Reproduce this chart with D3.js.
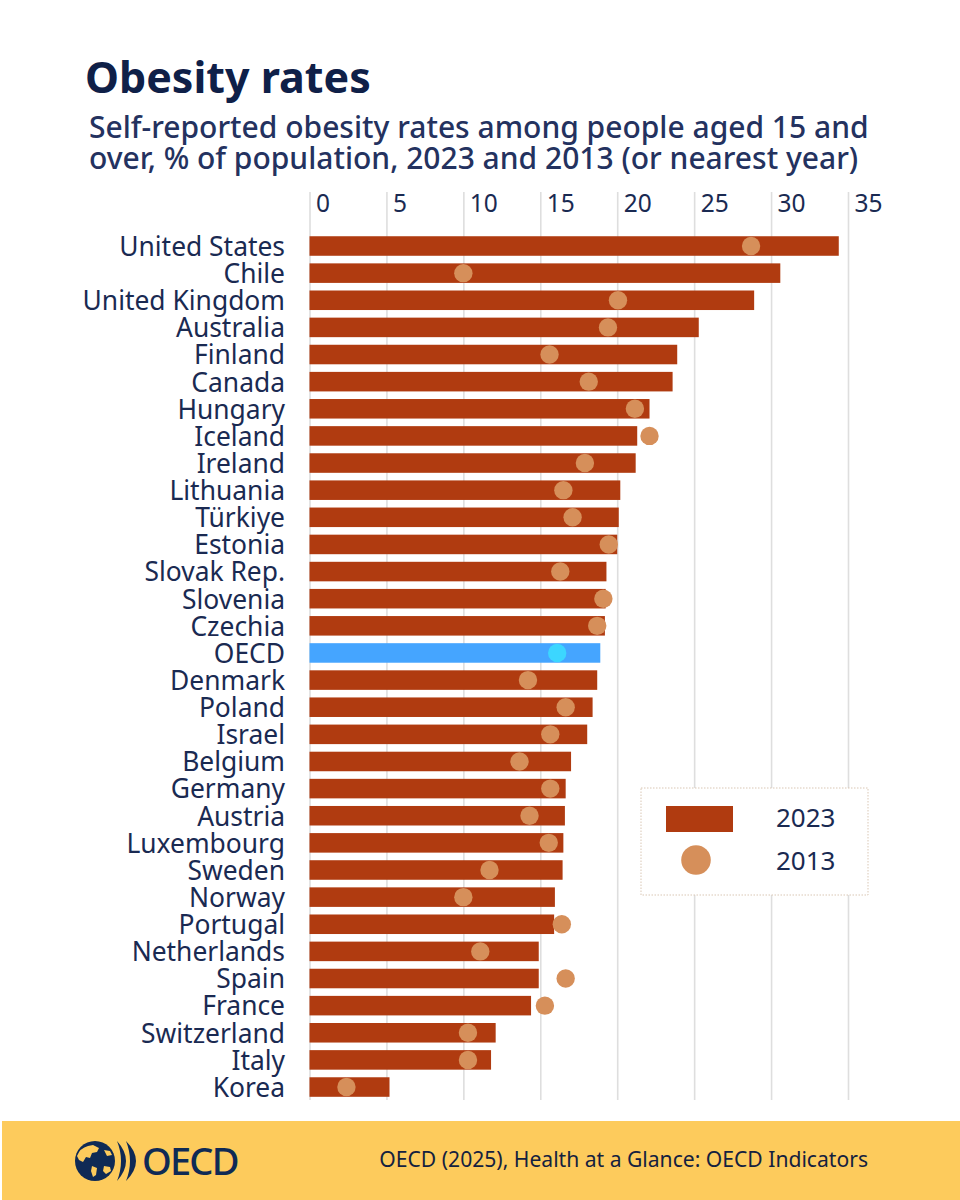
<!DOCTYPE html>
<html><head><meta charset="utf-8">
<script src="https://cdn.jsdelivr.net/npm/d3@7/dist/d3.min.js"></script>
<style>html,body{margin:0;padding:0;background:#fff}svg{display:block}text{font-family:"Noto Sans","Open Sans",sans-serif}</style>
</head><body><svg id="c" width="960" height="1200"></svg>
<script>
const countries=["United States","Chile","United Kingdom","Australia","Finland","Canada","Hungary","Iceland","Ireland","Lithuania","Türkiye","Estonia","Slovak Rep.","Slovenia","Czechia","OECD","Denmark","Poland","Israel","Belgium","Germany","Austria","Luxembourg","Sweden","Norway","Portugal","Netherlands","Spain","France","Switzerland","Italy","Korea"];
const values2023=[34.4,30.6,28.9,25.3,23.9,23.6,22.1,21.3,21.2,20.2,20.1,20.0,19.3,19.25,19.2,18.9,18.7,18.4,18.05,17.0,16.65,16.6,16.5,16.45,15.95,15.9,14.9,14.9,14.4,12.1,11.8,5.2];
const values2013=[28.7,10.0,20.05,19.4,15.6,18.15,21.15,22.1,17.9,16.5,17.1,19.45,16.3,19.1,18.7,16.1,14.2,16.65,15.65,13.65,15.65,14.3,15.55,11.7,10.0,16.4,11.1,16.65,15.3,10.3,10.3,2.4];
const ticks=[0,5,10,15,20,25,30,35];
const legendItems=["2023","2013"];
const ink="#1a2a52",barC="#b03b10",dotC="#d68f5a",oecdBar="#45a5ff",oecdDot="#3cd6ff";

const svg=d3.select("#c");
const x=d3.scaleLinear().domain([0,35]).range([309.5,848]);
const y=d3.scaleBand().domain(countries).range([232.44,1100.6]).paddingInner(0.28).paddingOuter(0.14);

svg.append("text").attr("x",85).attr("y",93).attr("font-size",43).attr("font-weight",700).attr("fill","#0f2048").text("Obesity rates");
svg.append("text").attr("x",89).attr("y",138).attr("font-size",30).attr("font-weight",500).attr("fill","#24325f").text("Self-reported obesity rates among people aged 15 and");
svg.append("text").attr("x",89).attr("y",168.5).attr("font-size",30).attr("font-weight",500).attr("fill","#24325f").text("over, % of population, 2023 and 2013 (or nearest year)");

// grid + top axis
const ax=svg.append("g").attr("transform","translate(0,1100)").call(d3.axisTop(x).tickValues(ticks).tickSize(908).tickFormat(d3.format("d")));
ax.select(".domain").remove();
ax.selectAll("line").attr("stroke","#dedede").attr("stroke-width",1.6);
ax.selectAll("text").attr("text-anchor","start").attr("x",6).attr("y",-888).attr("dy",0).attr("font-size",24.5).attr("fill",ink).style("font-family",'"Noto Sans"');

// y labels
const ay=svg.append("g").attr("transform","translate(285,0.6)").call(d3.axisLeft(y).tickSize(0).tickPadding(0));
ay.select(".domain").remove();
ay.selectAll("text").attr("font-size",26.4).attr("fill",ink).attr("dy","0.35em").style("font-family",'"Noto Sans"');

svg.append("g").selectAll("rect").data(countries).join("rect")
 .attr("x",x(0)).attr("y",d=>y(d)).attr("height",y.bandwidth())
 .attr("width",(d,i)=>x(values2023[i])-x(0)).attr("fill",d=>d==="OECD"?oecdBar:barC);
svg.append("g").selectAll("circle").data(countries).join("circle")
 .attr("cx",(d,i)=>x(values2013[i])).attr("cy",d=>y(d)+y.bandwidth()/2).attr("r",9.2)
 .attr("fill",d=>d==="OECD"?oecdDot:dotC);

// legend
const lg=svg.append("g");
lg.append("rect").attr("x",641).attr("y",788).attr("width",227).attr("height",107).attr("fill","#fff").attr("stroke","#d9c7b4").attr("stroke-width",1).attr("stroke-dasharray","1.5 1.5");
lg.append("rect").attr("x",666).attr("y",806).attr("width",67).attr("height",26).attr("fill",barC);
lg.append("circle").attr("cx",696).attr("cy",860).attr("r",14.8).attr("fill",dotC);
lg.selectAll("text").data(legendItems).join("text").attr("x",776).attr("y",(d,i)=>[827,870][i]).attr("font-size",26).attr("fill",ink).text(d=>d);

// footer
svg.append("rect").attr("x",2).attr("y",1121).attr("width",958).attr("height",79).attr("fill","#fdcb5c");
svg.append("text").attr("x",868).attr("y",1167).attr("text-anchor","end").attr("font-size",21.1).attr("fill","#14213f").text("OECD (2025), Health at a Glance: OECD Indicators");

// logo
const logoC="#0f2a55";
const logo=svg.append("g");
logo.append("circle").attr("cx",95).attr("cy",1161).attr("r",20).attr("fill",logoC);
logo.append("path").attr("fill","#fdcb5c").attr("d","M77,1156 q3,-8 11,-10 l5,-1 l6,3 l-2,4 l-5,1 l-2,5 l-4,-1 l-3,5 l-4,-2 z M92,1166 l5,2 l-1,7 l-3,2 l-2,-6 z M104,1166 l6,1 l1,4 l-5,3 l-3,-3 z M104,1150 l6,1 l2,4 l-5,1 z");
logo.append("path").attr("fill",logoC).attr("d","M117,1141 q9,10 9,20 q0,10 -9,20 q4,-10 4,-20 q0,-10 -4,-20 z M126,1141 q10,10 10,20 q0,10 -10,20 q4,-10 4,-20 q0,-10 -4,-20 z");
logo.append("text").attr("x",142).attr("y",1175).attr("font-size",38).attr("font-weight",500).attr("letter-spacing",-1.8).attr("fill",logoC).text("OECD");
</script></body></html>
